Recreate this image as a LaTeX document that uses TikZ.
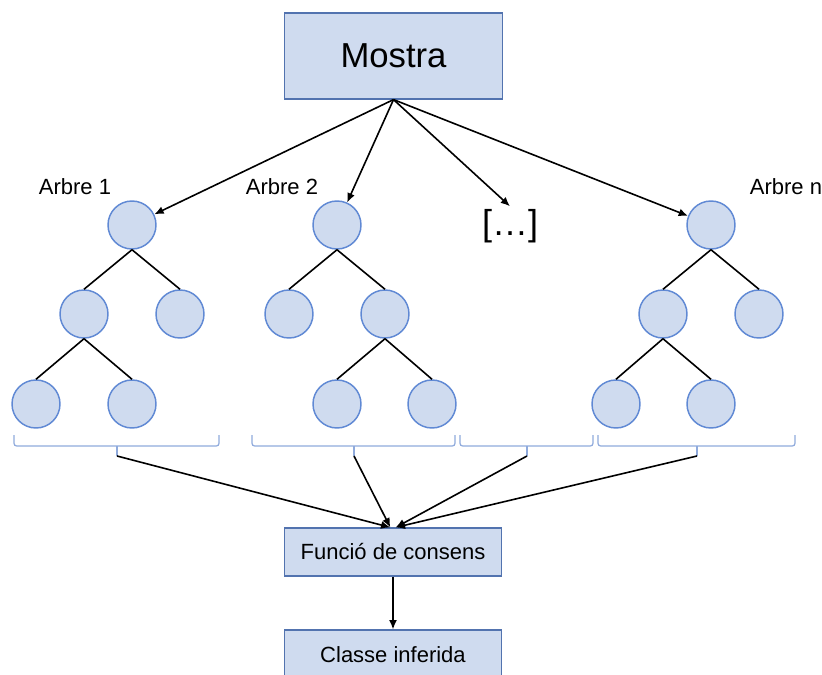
\documentclass[tikz,border=0pt]{standalone}
\usepackage{fontspec}
\setmainfont{Liberation Sans}
\usetikzlibrary{arrows.meta}
\definecolor{boxfill}{RGB}{207,219,239}
\definecolor{boxline}{RGB}{82,115,175}
\definecolor{nodeline}{RGB}{96,137,212}
\definecolor{braceline}{RGB}{143,170,220}

\begin{document}
\begin{tikzpicture}[x=0.75pt,y=0.75pt,yscale=-1,xscale=1,
  treenode/.style={circle,draw=nodeline,fill=boxfill,line width=1.1pt,minimum size=36pt,inner sep=0pt},
  stepbox/.style={draw=boxline,fill=boxfill,line width=0.9pt,minimum width=163pt,inner sep=0pt},
  edge/.style={line width=1.2pt},
  arr/.style={line width=1.2pt,-{Latex[length=7pt,width=6pt]}},
  bracket/.style={draw=braceline,line width=0.9pt,rounded corners=2pt},
  lbl/.style={font=\fontsize{16.5}{19}\selectfont}]
\clip (0,0) rectangle (822,675); %set diagram size 822 x 675

%Shape: Rectangle [id:mostra]
\node[stepbox,minimum height=64.5pt,font=\fontsize{26}{30}\selectfont] (mostra) at (393.5,56) {Mostra};

%Shape: Circle [id:arbre1]
\node[treenode] (t1) at (132,225) {};
\node[treenode] (t1a) at (84,314) {};
\node[treenode] (t1b) at (180,314) {};
\node[treenode] (t1c) at (36,404) {};
\node[treenode] (t1d) at (132,404) {};

%Shape: Circle [id:arbre2]
\node[treenode] (t2) at (337,225) {};
\node[treenode] (t2a) at (289,314) {};
\node[treenode] (t2b) at (385,314) {};
\node[treenode] (t2c) at (337,404) {};
\node[treenode] (t2d) at (432,404) {};

%Shape: Circle [id:arbren]
\node[treenode] (tn) at (711,225) {};
\node[treenode] (tna) at (663,314) {};
\node[treenode] (tnb) at (759,314) {};
\node[treenode] (tnc) at (616,404) {};
\node[treenode] (tnd) at (711,404) {};

% Text Node
\node[lbl] (l1) at (75,187) {Arbre 1};
% Text Node
\node[lbl] (l2) at (282,187) {Arbre 2};
% Text Node
\node[lbl] (ln) at (786,187) {Arbre n};
% Text Node
\node[font=\fontsize{27}{30}\selectfont,inner sep=2pt] (dots) at (510,226) {[…]};

%Straight Lines [id:mostra-arbres]
\draw[arr] (mostra.south) -- (t1);
\draw[arr] (mostra.south) -- (t2);
\draw[arr] (mostra.south) -- (dots.north);
\draw[arr] (mostra.south) -- (tn);

%Straight Lines [id:arestes]
\draw[edge] (t1.south) -- (t1a.north);
\draw[edge] (t1.south) -- (t1b.north);
\draw[edge] (t1a.south) -- (t1c.north);
\draw[edge] (t1a.south) -- (t1d.north);
\draw[edge] (t2.south) -- (t2a.north);
\draw[edge] (t2.south) -- (t2b.north);
\draw[edge] (t2b.south) -- (t2c.north);
\draw[edge] (t2b.south) -- (t2d.north);
\draw[edge] (tn.south) -- (tna.north);
\draw[edge] (tn.south) -- (tnb.north);
\draw[edge] (tna.south) -- (tnc.north);
\draw[edge] (tna.south) -- (tnd.north);

%Shape: Brace
\draw[bracket] (14,435) -- (14,446) -- (219,446) -- (219,435);
\draw[bracket] (117,446) -- (117,456) coordinate (b1);
\draw[bracket] (252,435) -- (252,446) -- (455,446) -- (455,435);
\draw[bracket] (354,446) -- (354,456) coordinate (b2);
\draw[bracket] (460,435) -- (460,446) -- (593,446) -- (593,435);
\draw[bracket] (527,446) -- (527,456) coordinate (b3);
\draw[bracket] (598,435) -- (598,446) -- (795,446) -- (795,435);
\draw[bracket] (697,446) -- (697,456) coordinate (b4);

%Shape: Rectangle [id:consens]
\node[stepbox,minimum height=36pt,lbl] (consens) at (393,552) {Funció de consens};
%Shape: Rectangle [id:classe]
\node[stepbox,minimum height=37.5pt,lbl] (classe) at (393,655) {Classe inferida};

%Straight Lines [id:braces-consens]
\draw[arr] (b1) -- ([xshift=-2pt]consens.north);
\draw[arr] (b2) -- ([xshift=-2pt]consens.north);
\draw[arr] (b3) -- ([xshift=2pt]consens.north);
\draw[arr] (b4) -- ([xshift=2pt]consens.north);
\draw[arr] (consens) -- (classe);

\end{tikzpicture}
\end{document}
